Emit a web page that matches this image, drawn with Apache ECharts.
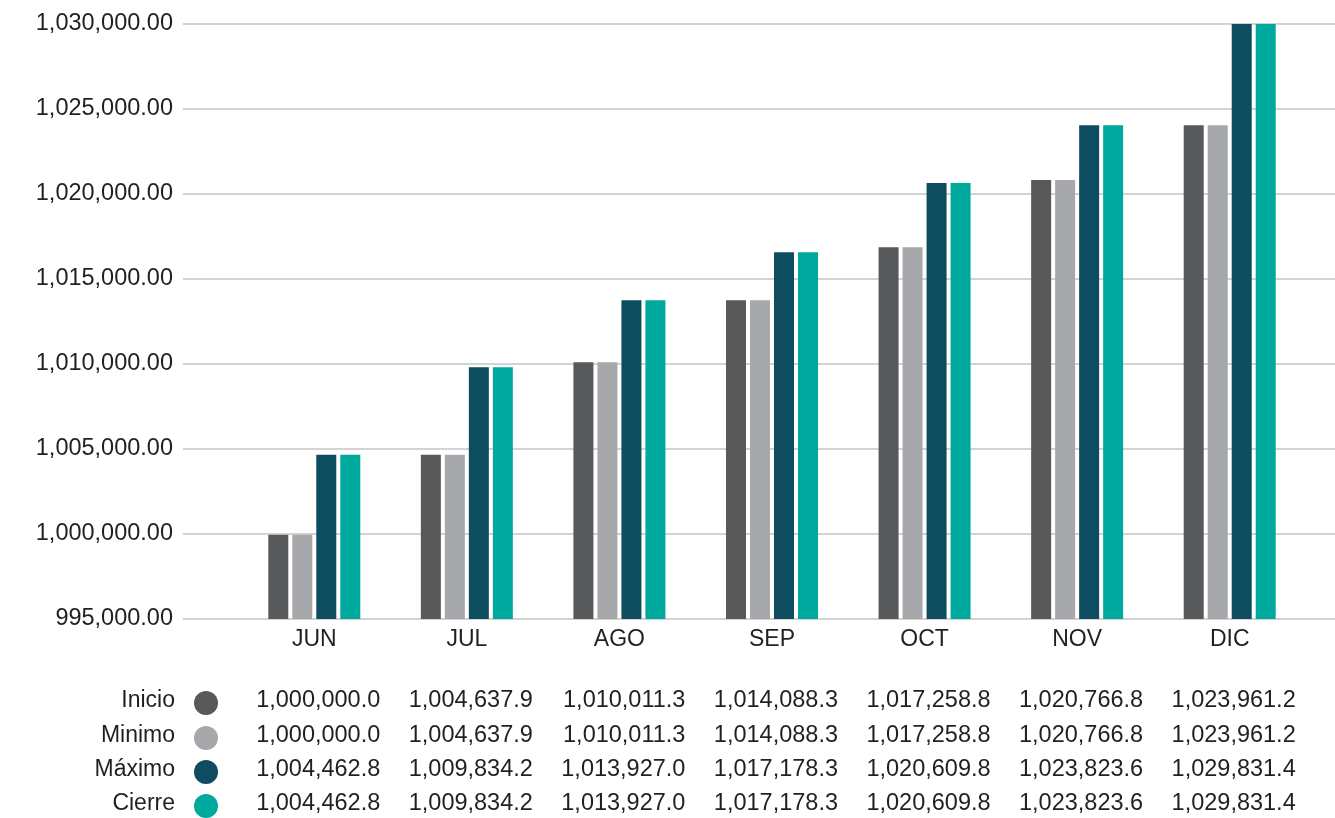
<!DOCTYPE html>
<html><head><meta charset="utf-8">
<script src="https://cdn.jsdelivr.net/npm/echarts@6/dist/echarts.min.js"></script>
<style>html,body{margin:0;padding:0;background:#fff}#c{width:1335px;height:818px}</style>
</head><body><div id="c"></div>
<script>
const months = ['JUN','JUL','AGO','SEP','OCT','NOV','DIC'];
const seriesNames = ['Inicio','Minimo','Máximo','Cierre'];
// values printed in the table under the chart
const inicio = [1000000.0, 1004637.9, 1010011.3, 1014088.3, 1017258.8, 1020766.8, 1023961.2];
const minimo = [1000000.0, 1004637.9, 1010011.3, 1014088.3, 1017258.8, 1020766.8, 1023961.2];
const maximo = [1004462.8, 1009834.2, 1013927.0, 1017178.3, 1020609.8, 1023823.6, 1029831.4];
const cierre = [1004462.8, 1009834.2, 1013927.0, 1017178.3, 1020609.8, 1023823.6, 1029831.4];
// bar heights as drawn in the picture (estimated)
const inicioBar = [999950, 1004660, 1010100, 1013750, 1016870, 1020830, 1024050];
const minimoBar = [999950, 1004660, 1010100, 1013750, 1016870, 1020830, 1024050];
const maximoBar = [1004660, 1009810, 1013750, 1016580, 1020650, 1024050, 1030000];
const cierreBar = [1004660, 1009810, 1013750, 1016580, 1020650, 1024050, 1030000];
const yMin = 995000, yMax = 1030000, yStep = 5000;

const tableRows = [inicio, minimo, maximo, cierre];
const barRows = [inicioBar, minimoBar, maximoBar, cierreBar];
const colors = ['#58595b', '#a7a8ab', '#0d4d5f', '#00a99d'];
const FONT = '"Liberation Sans", Arial, Helvetica, sans-serif';
const TXT = '#231f20';
const fmt1 = v => v.toLocaleString('en-US', {minimumFractionDigits: 1, maximumFractionDigits: 1});
const fmt2 = v => v.toLocaleString('en-US', {minimumFractionDigits: 2, maximumFractionDigits: 2});

const chart = echarts.init(document.getElementById('c'));
chart.setOption({
  animation: false,
  textStyle: {fontFamily: FONT},
  grid: [
    {left: 183, right: 0, top: 24, bottom: 199, containLabel: false},
    {left: 238, right: 29, top: 24, bottom: 199, containLabel: false}
  ],
  xAxis: [
    {gridIndex: 0, type: 'category', data: months, show: false},
    {gridIndex: 1, type: 'category', data: months,
     axisLine: {show: false}, axisTick: {show: false},
     axisLabel: {color: TXT, fontSize: 23, margin: 9, fontFamily: FONT}}
  ],
  yAxis: [
    {gridIndex: 0, type: 'value', min: yMin, max: yMax, interval: yStep,
     axisLine: {show: false}, axisTick: {show: false},
     axisLabel: {color: TXT, fontSize: 23.5, margin: 10, fontFamily: FONT, formatter: v => fmt2(v)},
     splitLine: {lineStyle: {color: '#c4c4c4', width: 1.6}}},
    {gridIndex: 1, type: 'value', min: yMin, max: yMax, interval: yStep, show: false,
     splitLine: {show: false}}
  ],
  series: barRows.map((d, i) => ({
    name: seriesNames[i], type: 'bar', xAxisIndex: 1, yAxisIndex: 1,
    data: d, barWidth: 20, barGap: '20%',
    itemStyle: {color: colors[i]}
  }))
});

const rowY = [701, 736, 770, 804];
const graphics = [];
seriesNames.forEach((name, r) => {
  graphics.push({type: 'text', x: 175, y: rowY[r],
    style: {text: name, fill: TXT, font: '23px ' + FONT, textAlign: 'right', textVerticalAlign: 'middle'}});
  graphics.push({type: 'circle', shape: {cx: 206, cy: rowY[r] + 2, r: 12}, style: {fill: colors[r]}});
  tableRows[r].forEach((v, c) => {
    const cx = chart.convertToPixel({xAxisIndex: 1}, c);
    graphics.push({type: 'text', x: cx + 66, y: rowY[r],
      style: {text: fmt1(v), fill: TXT, font: '23.5px ' + FONT, textAlign: 'right', textVerticalAlign: 'middle'}});
  });
});
chart.setOption({graphic: graphics});
</script></body></html>
